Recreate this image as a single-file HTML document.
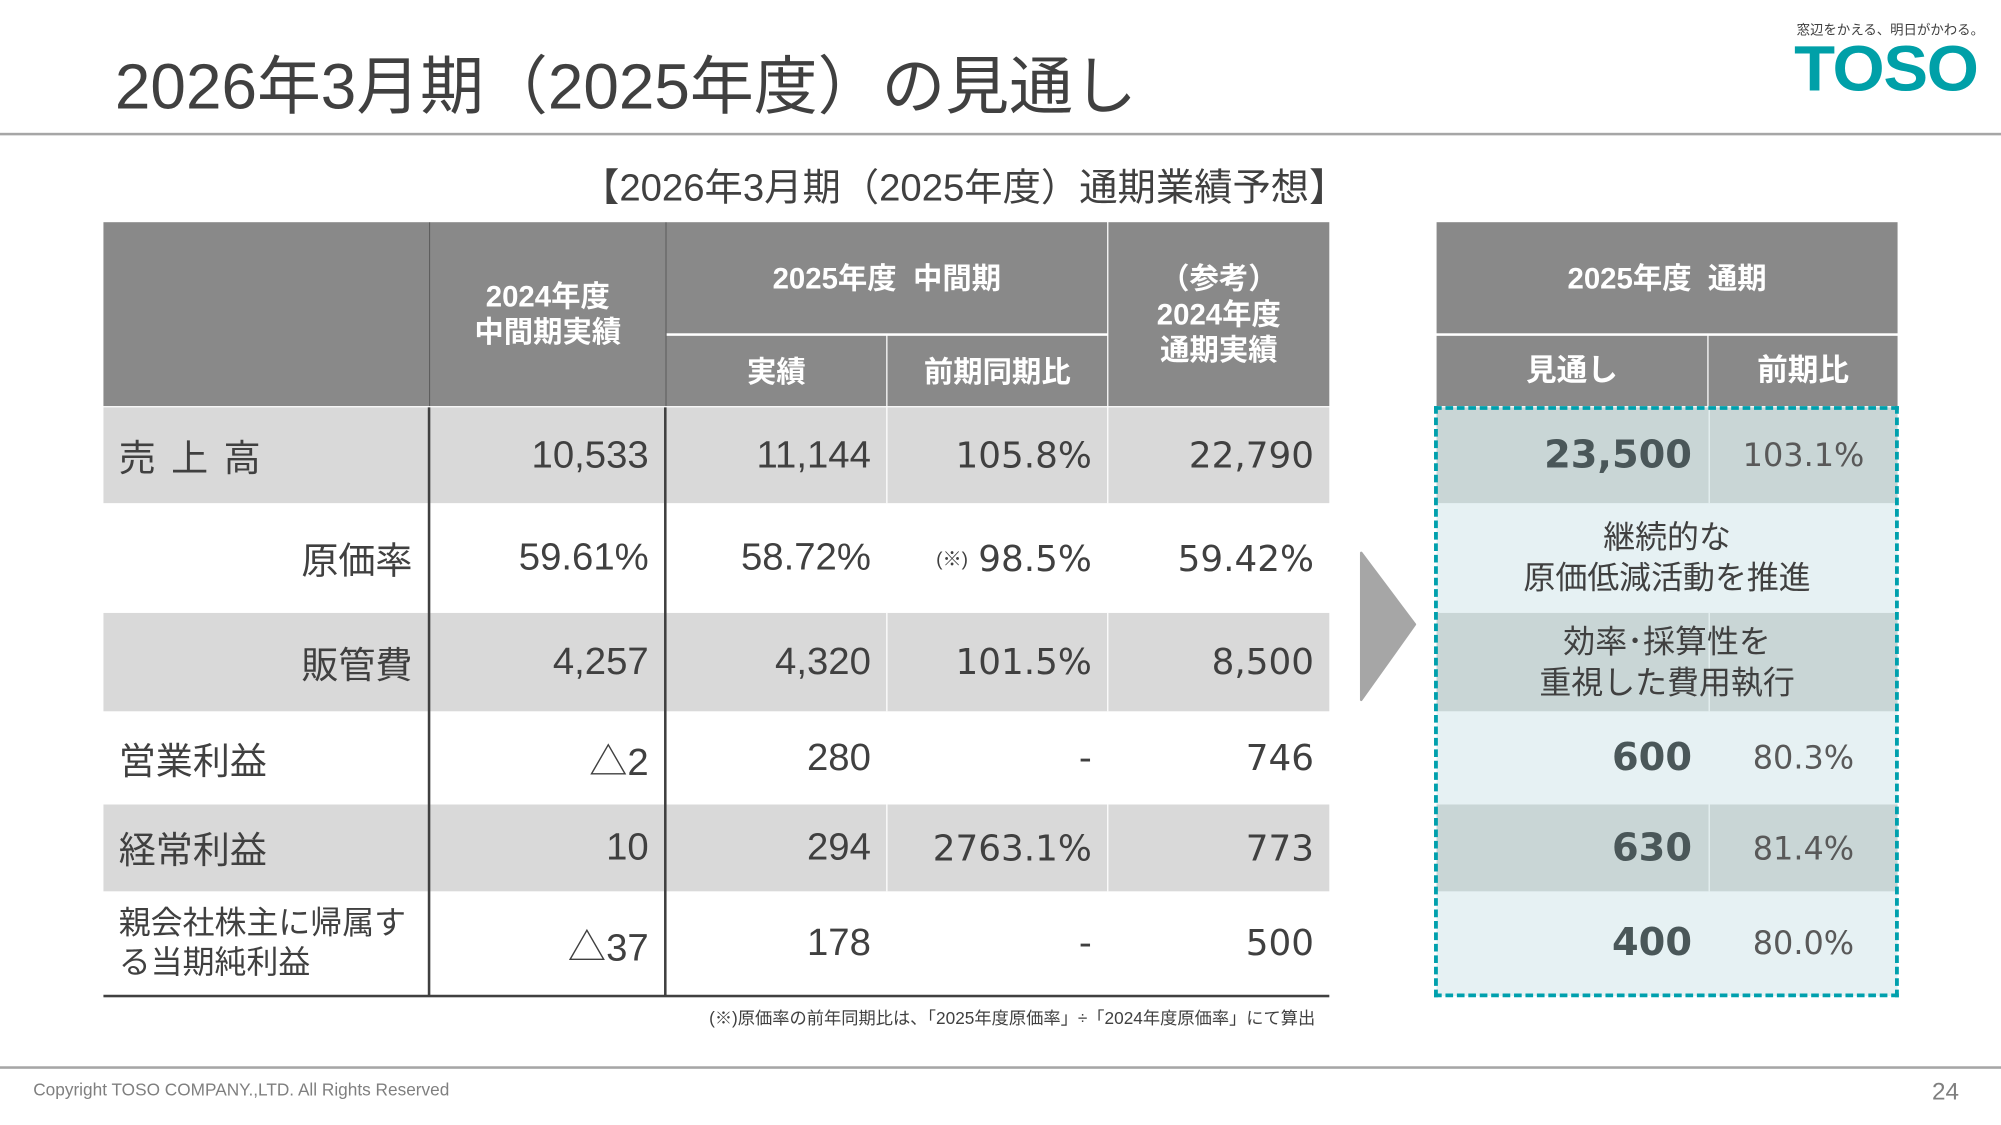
<!DOCTYPE html>
<html><head><meta charset="utf-8">
<style>
html,body{margin:0;padding:0;background:#fff;}
body{width:2001px;height:1125px;overflow:hidden;position:relative;}
#c{position:absolute;left:0;top:0;width:1567px;height:881px;transform:scale(1.27696,1.27696);transform-origin:0 0;font-family:"Liberation Sans","Noto Sans CJK JP",sans-serif;color:#404040;}
.a{position:absolute;}
.t{position:absolute;white-space:nowrap;}
.h{background:#898989;color:#fff;font-weight:bold;font-size:23px;display:flex;align-items:center;justify-content:center;text-align:center;line-height:28px;position:absolute;box-sizing:border-box;}
.cell{position:absolute;display:flex;align-items:center;justify-content:flex-end;box-sizing:border-box;padding-right:12px;font-size:30px;white-space:nowrap;}
.w{font-family:"DejaVu Sans","Noto Sans CJK JP",sans-serif;font-size:28px;}
.lab{position:absolute;display:flex;align-items:center;box-sizing:border-box;font-size:29px;padding-left:12px;}
</style></head><body><div id="c">
<div class="t" style="left:90px;top:28px;font-size:50px;color:#404040;">2026年3月期（2025年度）の見通し</div>
<div class="t" style="left:1407px;top:16px;font-size:10.5px;color:#404040;">窓辺をかえる、明日がかわる。</div>
<div class="t" style="left:1405px;top:25px;font-size:50px;font-weight:bold;color:#00a0a8;letter-spacing:-1px;transform:scaleX(1.05);transform-origin:0 0;">TOSO</div>
<div class="a" style="left:0;top:104px;width:1567px;height:2px;background:#a6a6a6;"></div>
<div class="t" style="left:455px;top:122px;font-size:30px;color:#404040;">【2026年3月期（2025年度）通期業績予想】</div>

<div class="h" style="left:81px;top:174px;width:255px;height:144px;"></div>
<div class="h" style="left:337px;top:174px;width:184px;height:144px;">2024年度<br>中間期実績</div>
<div class="h" style="left:522px;top:174px;width:345px;height:87px;">2025年度&nbsp;&nbsp;中間期</div>
<div class="h" style="left:522px;top:263px;width:172px;height:55px;">実績</div>
<div class="h" style="left:695px;top:263px;width:172px;height:55px;">前期同期比</div>
<div class="h" style="left:868px;top:174px;width:173px;height:144px;">（参考）<br>2024年度<br>通期実績</div>
<div class="a" style="left:336px;top:174px;width:1px;height:144px;background:#555;"></div>
<div class="a" style="left:521px;top:174px;width:1px;height:144px;background:#555;"></div>

<div class="a" style="left:81px;top:319px;width:960px;height:75px;background:#d9d9d9;"></div>
<div class="a" style="left:81px;top:480px;width:960px;height:77px;background:#d9d9d9;"></div>
<div class="a" style="left:81px;top:630px;width:960px;height:68px;background:#d9d9d9;"></div>
<div class="a" style="left:694px;top:319px;width:1px;height:75px;background:#fff;"></div>
<div class="a" style="left:867px;top:319px;width:1px;height:75px;background:#fff;"></div>
<div class="a" style="left:694px;top:480px;width:1px;height:77px;background:#fff;"></div>
<div class="a" style="left:867px;top:480px;width:1px;height:77px;background:#fff;"></div>
<div class="a" style="left:694px;top:630px;width:1px;height:68px;background:#fff;"></div>
<div class="a" style="left:867px;top:630px;width:1px;height:68px;background:#fff;"></div>
<div class="a" style="left:335px;top:319px;width:2px;height:461px;background:#404040;"></div>
<div class="a" style="left:520px;top:319px;width:2px;height:461px;background:#404040;"></div>
<div class="a" style="left:81px;top:779px;width:960px;height:2px;background:#404040;"></div>

<div class="lab" style="left:81px;top:319px;width:254px;height:75px;letter-spacing:2px;">売 上 高</div>
<div class="lab" style="left:81px;top:394px;width:254px;height:86px;justify-content:flex-end;padding-right:12px;">原価率</div>
<div class="lab" style="left:81px;top:480px;width:254px;height:77px;justify-content:flex-end;padding-right:12px;">販管費</div>
<div class="lab" style="left:81px;top:557px;width:254px;height:73px;">営業利益</div>
<div class="lab" style="left:81px;top:630px;width:254px;height:68px;">経常利益</div>
<div class="lab" style="left:81px;top:698px;width:254px;height:81px;font-size:25px;line-height:31px;">親会社株主に帰属す<br>る当期純利益</div>

<div class="cell" style="left:337px;top:319px;width:183px;height:75px;">10,533</div>
<div class="cell" style="left:522px;top:319px;width:172px;height:75px;">11,144</div>
<div class="cell w" style="left:695px;top:319px;width:172px;height:75px;">105.8%</div>
<div class="cell w" style="left:868px;top:319px;width:173px;height:75px;">22,790</div>

<div class="cell" style="left:337px;top:394px;width:183px;height:86px;">59.61%</div>
<div class="cell" style="left:522px;top:394px;width:172px;height:86px;">58.72%</div>
<div class="cell w" style="left:695px;top:394px;width:172px;height:86px;"><span style="font-size:15px;margin-right:8px;font-family:'Liberation Sans','Noto Sans CJK JP',sans-serif;">(※)</span>98.5%</div>
<div class="cell w" style="left:868px;top:394px;width:173px;height:86px;">59.42%</div>

<div class="cell" style="left:337px;top:480px;width:183px;height:77px;">4,257</div>
<div class="cell" style="left:522px;top:480px;width:172px;height:77px;">4,320</div>
<div class="cell w" style="left:695px;top:480px;width:172px;height:77px;">101.5%</div>
<div class="cell w" style="left:868px;top:480px;width:173px;height:77px;">8,500</div>

<div class="cell" style="left:337px;top:557px;width:183px;height:73px;">△2</div>
<div class="cell" style="left:522px;top:557px;width:172px;height:73px;">280</div>
<div class="cell w" style="left:695px;top:557px;width:172px;height:73px;">-</div>
<div class="cell w" style="left:868px;top:557px;width:173px;height:73px;">746</div>

<div class="cell" style="left:337px;top:630px;width:183px;height:68px;">10</div>
<div class="cell" style="left:522px;top:630px;width:172px;height:68px;">294</div>
<div class="cell w" style="left:695px;top:630px;width:172px;height:68px;">2763.1%</div>
<div class="cell w" style="left:868px;top:630px;width:173px;height:68px;">773</div>

<div class="cell" style="left:337px;top:698px;width:183px;height:81px;">△37</div>
<div class="cell" style="left:522px;top:698px;width:172px;height:81px;">178</div>
<div class="cell w" style="left:695px;top:698px;width:172px;height:81px;">-</div>
<div class="cell w" style="left:868px;top:698px;width:173px;height:81px;">500</div>

<div class="t" style="right:537px;top:786px;font-size:13.5px;color:#404040;">(※)原価率の前年同期比は、「2025年度原価率」÷「2024年度原価率」にて算出</div>

<svg class="a" style="left:1064px;top:431px;" width="48" height="120"><polygon points="2,2 44,58 2,117" fill="#a6a6a6" stroke="#a6a6a6" stroke-width="2" stroke-linejoin="round"/></svg>

<div class="h" style="left:1125px;top:174px;width:361px;height:87px;">2025年度&nbsp;&nbsp;通期</div>
<div class="h" style="left:1125px;top:263px;width:212px;height:55px;font-size:24px;">見通し</div>
<div class="h" style="left:1338px;top:263px;width:148px;height:55px;font-size:24px;">前期比</div>
<div class="a" style="left:1125px;top:319px;width:361px;height:461px;background:#e6f1f3;"></div>
<div class="a" style="left:1125px;top:319px;width:361px;height:75px;background:#c9d6d6;"></div>
<div class="a" style="left:1125px;top:480px;width:361px;height:77px;background:#c9d6d6;"></div>
<div class="a" style="left:1125px;top:630px;width:361px;height:68px;background:#c9d6d6;"></div>
<div class="a" style="left:1338px;top:319px;width:1px;height:75px;background:#e6f1f3;"></div>
<div class="a" style="left:1338px;top:480px;width:1px;height:77px;background:#e6f1f3;"></div>
<div class="a" style="left:1338px;top:630px;width:1px;height:68px;background:#e6f1f3;"></div>

<div class="cell" style="left:1125px;top:319px;width:212px;height:75px;font-family:'DejaVu Sans',sans-serif;font-weight:bold;font-size:30px;color:#4a5759;padding-right:12px;">23,500</div>
<div class="cell" style="left:1338px;top:319px;width:148px;height:75px;font-family:'DejaVu Sans',sans-serif;font-size:25px;color:#595959;padding-right:26px;">103.1%</div>
<div class="a" style="left:1125px;top:394px;width:361px;height:86px;display:flex;align-items:center;justify-content:center;text-align:center;font-size:25px;line-height:32px;color:#404040;">継続的な<br>原価低減活動を推進</div>
<div class="a" style="left:1125px;top:480px;width:361px;height:77px;display:flex;align-items:center;justify-content:center;text-align:center;font-size:25px;line-height:32px;color:#404040;">効率･採算性を<br>重視した費用執行</div>
<div class="cell" style="left:1125px;top:557px;width:212px;height:73px;font-family:'DejaVu Sans',sans-serif;font-weight:bold;font-size:30px;color:#4a5759;padding-right:12px;">600</div>
<div class="cell" style="left:1338px;top:557px;width:148px;height:73px;font-family:'DejaVu Sans',sans-serif;font-size:25px;color:#595959;padding-right:34px;">80.3%</div>
<div class="cell" style="left:1125px;top:630px;width:212px;height:68px;font-family:'DejaVu Sans',sans-serif;font-weight:bold;font-size:30px;color:#4a5759;padding-right:12px;">630</div>
<div class="cell" style="left:1338px;top:630px;width:148px;height:68px;font-family:'DejaVu Sans',sans-serif;font-size:25px;color:#595959;padding-right:34px;">81.4%</div>
<div class="cell" style="left:1125px;top:698px;width:212px;height:81px;font-family:'DejaVu Sans',sans-serif;font-weight:bold;font-size:30px;color:#4a5759;padding-right:12px;">400</div>
<div class="cell" style="left:1338px;top:698px;width:148px;height:81px;font-family:'DejaVu Sans',sans-serif;font-size:25px;color:#595959;padding-right:34px;">80.0%</div>
<div class="a" style="left:1123px;top:318px;width:364px;height:463px;border:3px dashed #00a0ad;box-sizing:border-box;"></div>

<div class="a" style="left:0;top:835px;width:1567px;height:2px;background:#a6a6a6;"></div>
<div class="t" style="left:26px;top:846px;font-size:13.5px;color:#7f7f7f;">Copyright TOSO COMPANY.,LTD. All Rights Reserved</div>
<div class="t" style="left:1513px;top:845px;font-size:19px;color:#7f7f7f;">24</div>
</div></body></html>
